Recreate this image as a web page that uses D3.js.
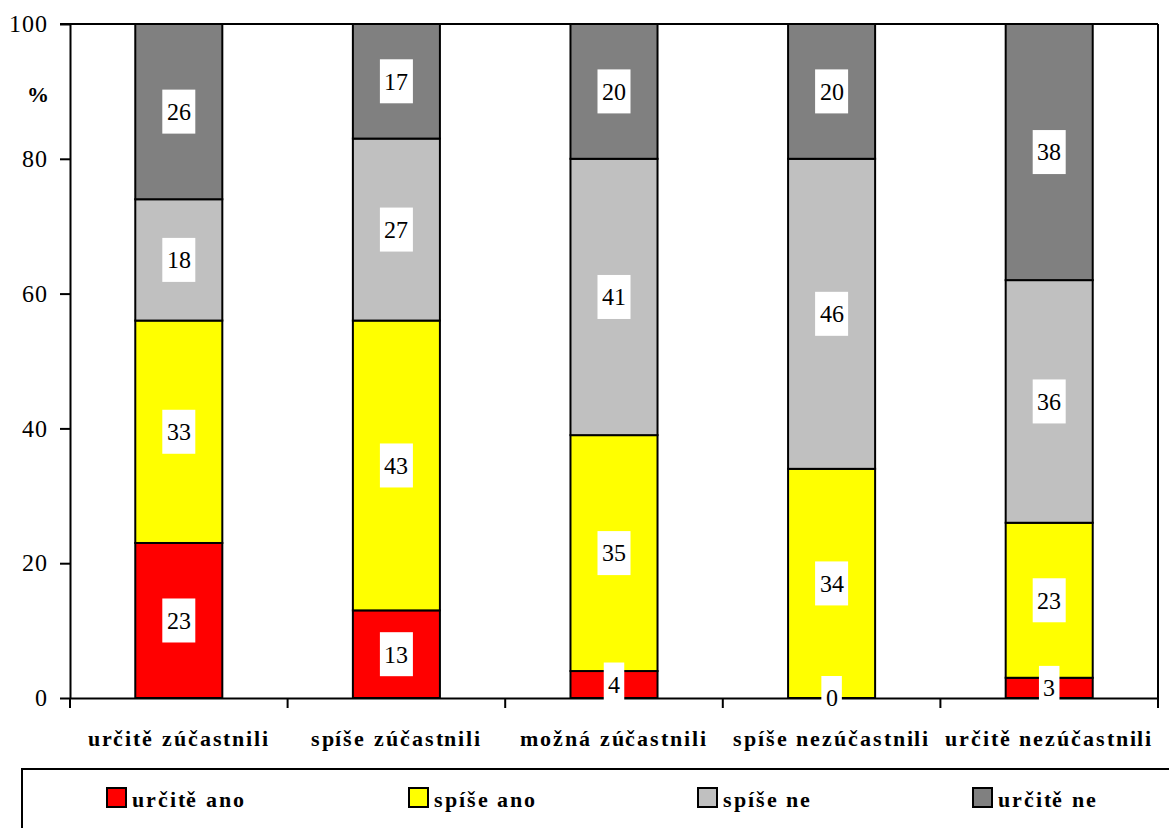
<!DOCTYPE html>
<html><head><meta charset="utf-8">
<script src="https://cdn.jsdelivr.net/npm/d3@7"></script>
<style>
@font-face{font-family:"ChartSerif";font-weight:400;src:local("Liberation Serif"),local("LiberationSerif"),local("Times New Roman");}
@font-face{font-family:"ChartSerif";font-weight:700;src:local("Liberation Serif Bold"),local("LiberationSerif-Bold"),local("Times New Roman Bold");}
html,body{margin:0;padding:0;background:#fff;}svg{display:block;}
</style>
</head><body>
<script>
const categories = ["určitě zúčastnili","spíše zúčastnili","možná zúčastnili","spíše nezúčastnili","určitě nezúčastnili"];
const seriesNames = ["určitě ano","spíše ano","spíše ne","určitě ne"];
const seriesColors = ["#FF0000","#FFFF00","#C0C0C0","#808080"];
const urciteAno = [23,13,4,0,3];
const spiseAno = [33,43,35,34,23];
const spiseNe = [18,27,41,46,36];
const urciteNe = [26,17,20,20,38];
const yTicks = [0,20,40,60,80,100];
const yAxisLabel = "%";

const W = 1169, H = 828;
const m = {left:70, right:1158, top:24, bottom:698};
const svg = d3.select("body").append("svg").attr("width",W).attr("height",H);
const FF = "ChartSerif, Liberation Serif, serif";

const x = d3.scaleBand().domain(categories).range([m.left,m.right]).padding(0);
const y = d3.scaleLinear().domain([0,100]).range([m.bottom,m.top]);
const barW = x.bandwidth()*0.4;

const seriesData = [urciteAno,spiseAno,spiseNe,urciteNe];
const rows = categories.map((c,i)=>{const o={cat:c}; seriesNames.forEach((s,j)=>o[s]=seriesData[j][i]); return o;});
const stacked = d3.stack().keys(seriesNames)(rows);

const g = svg.append("g");
stacked.forEach((layer,j)=>{
  g.selectAll(null).data(layer).enter().append("rect")
    .attr("x",d=>x(d.data.cat)+(x.bandwidth()-barW)/2)
    .attr("y",d=>y(d[1]))
    .attr("width",barW)
    .attr("height",d=>y(d[0])-y(d[1]))
    .attr("fill",seriesColors[j])
    .attr("stroke","#000").attr("stroke-width",2);
});

svg.append("line").attr("x1",m.left-10).attr("x2",m.right).attr("y1",m.top).attr("y2",m.top).attr("stroke","#000").attr("stroke-width",2);
svg.append("line").attr("x1",m.right).attr("x2",m.right).attr("y1",m.top).attr("y2",m.bottom).attr("stroke","#000").attr("stroke-width",2);

const ya = svg.append("g").attr("transform",`translate(${m.left},0)`)
  .call(d3.axisLeft(y).tickValues(yTicks).tickSize(10).tickSizeOuter(0).tickPadding(12));
ya.attr("font-family",FF).attr("font-size",24);
ya.select(".domain").attr("stroke","#000").attr("stroke-width",2);
ya.selectAll(".tick line").attr("stroke","#000").attr("stroke-width",2);
ya.selectAll(".tick text").attr("font-family",FF).attr("font-size",24).attr("letter-spacing",1).attr("fill","#000");

const boundaries = categories.map(c=>x(c)).concat([m.right]);
const xa = svg.append("g").attr("transform",`translate(0,${m.bottom})`)
  .call(d3.axisBottom(x).tickSize(0).tickSizeOuter(0).tickPadding(32));
xa.attr("font-family",FF).attr("font-size",22);
xa.select(".domain").attr("stroke","#000").attr("stroke-width",2);
xa.selectAll(".tick text").attr("font-family",FF).attr("font-size",22).attr("font-weight","bold")
  .attr("letter-spacing",1.9).attr("fill","#000");
svg.append("g").selectAll("line").data(boundaries).enter().append("line")
  .attr("x1",d=>d).attr("x2",d=>d).attr("y1",m.bottom).attr("y2",m.bottom+10)
  .attr("stroke","#000").attr("stroke-width",2);

svg.append("text").attr("x",38).attr("y",102).attr("text-anchor","middle")
  .attr("font-family",FF).attr("font-size",22).attr("font-weight","bold").text(yAxisLabel);

stacked.forEach((layer,j)=>{
  layer.forEach(d=>{
    const v = d.data[seriesNames[j]];
    const cx = x(d.data.cat)+x.bandwidth()/2;
    const cy = y((d[0]+d[1])/2);
    const bw = String(v).length*12.5+8;
    svg.append("rect").attr("x",cx-bw/2).attr("y",cy-22).attr("width",bw).attr("height",44).attr("fill","#fff");
    svg.append("text").attr("x",cx).attr("y",cy).attr("dy","0.35em").attr("text-anchor","middle")
      .attr("font-family",FF).attr("font-size",24).attr("fill","#000").text(v);
  });
});

svg.append("rect").attr("x",22).attr("y",769).attr("width",1200).attr("height",100)
  .attr("fill","none").attr("stroke","#000").attr("stroke-width",2);
const legX = [107,409,698,973];
seriesNames.forEach((s,j)=>{
  svg.append("rect").attr("x",legX[j]).attr("y",788).attr("width",19).attr("height",19)
    .attr("fill",seriesColors[j]).attr("stroke","#000").attr("stroke-width",2);
  svg.append("text").attr("x",legX[j]+25).attr("y",807)
    .attr("font-family",FF).attr("font-size",22).attr("font-weight","bold").attr("letter-spacing",1.9).text(s);
});
</script>
</body></html>
